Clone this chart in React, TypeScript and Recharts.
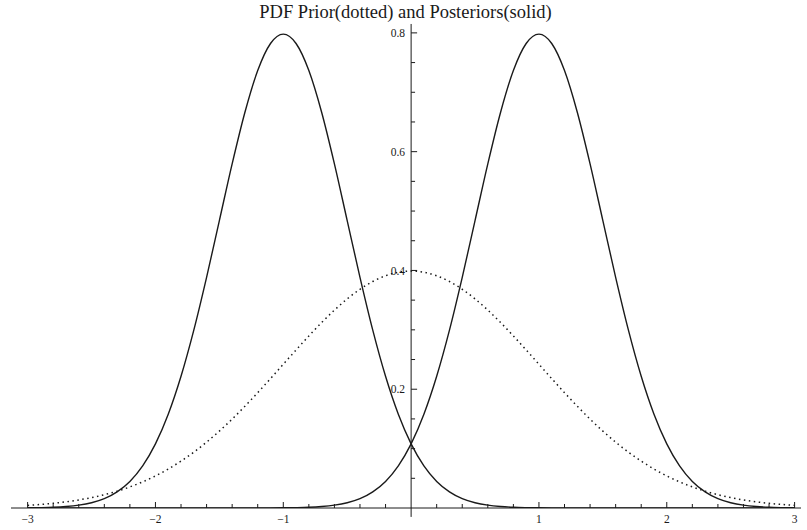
import { LineChart, Line, XAxis, YAxis, ReferenceLine } from 'recharts';

// x sample points (step 0.1)
const xValues = [
  -3.0, -2.9, -2.8, -2.7, -2.6, -2.5, -2.4, -2.3, -2.2, -2.1,
  -2.0, -1.9, -1.8, -1.7, -1.6, -1.5, -1.4, -1.3, -1.2, -1.1,
  -1.0, -0.9, -0.8, -0.7, -0.6, -0.5, -0.4, -0.3, -0.2, -0.1,
  0.0, 0.1, 0.2, 0.3, 0.4, 0.5, 0.6, 0.7, 0.8, 0.9,
  1.0, 1.1, 1.2, 1.3, 1.4, 1.5, 1.6, 1.7, 1.8, 1.9,
  2.0, 2.1, 2.2, 2.3, 2.4, 2.5, 2.6, 2.7, 2.8, 2.9, 3.0,
];

// prior (dotted)
const prior = [
  0.0044, 0.006, 0.0079, 0.0104, 0.0136, 0.0175, 0.0224, 0.0283, 0.0355, 0.044,
  0.054, 0.0656, 0.079, 0.094, 0.1109, 0.1295, 0.1497, 0.1714, 0.1942, 0.2179,
  0.242, 0.2661, 0.2897, 0.3123, 0.3332, 0.3521, 0.3683, 0.3814, 0.391, 0.397,
  0.3989, 0.397, 0.391, 0.3814, 0.3683, 0.3521, 0.3332, 0.3123, 0.2897, 0.2661,
  0.242, 0.2179, 0.1942, 0.1714, 0.1497, 0.1295, 0.1109, 0.094, 0.079, 0.0656,
  0.054, 0.044, 0.0355, 0.0283, 0.0224, 0.0175, 0.0136, 0.0104, 0.0079, 0.006, 0.0044,
];

// posterior centred at -1 (solid)
const leftPosterior = [
  0.0003, 0.0006, 0.0012, 0.0025, 0.0048, 0.0089, 0.0158, 0.0272, 0.0448, 0.071,
  0.108, 0.1579, 0.2218, 0.2995, 0.3884, 0.4839, 0.5794, 0.6664, 0.7366, 0.7821,
  0.7979, 0.7821, 0.7366, 0.6664, 0.5794, 0.4839, 0.3884, 0.2995, 0.2218, 0.1579,
  0.108, 0.071, 0.0448, 0.0272, 0.0158, 0.0089, 0.0048, 0.0025, 0.0012, 0.0006,
  0.0003, 0.0001, 0, 0, 0, 0, 0, 0, 0, 0,
  0, 0, 0, 0, 0, 0, 0, 0, 0, 0, 0,
];

// posterior centred at +1 (solid)
const rightPosterior = [
  0, 0, 0, 0, 0, 0, 0, 0, 0, 0,
  0, 0, 0, 0, 0, 0, 0, 0, 0, 0.0001,
  0.0003, 0.0006, 0.0012, 0.0025, 0.0048, 0.0089, 0.0158, 0.0272, 0.0448, 0.071,
  0.108, 0.1579, 0.2218, 0.2995, 0.3884, 0.4839, 0.5794, 0.6664, 0.7366, 0.7821,
  0.7979, 0.7821, 0.7366, 0.6664, 0.5794, 0.4839, 0.3884, 0.2995, 0.2218, 0.1579,
  0.108, 0.071, 0.0448, 0.0272, 0.0158, 0.0089, 0.0048, 0.0025, 0.0012, 0.0006, 0.0003,
];

const xTicks = [
  -3, -2.8, -2.6, -2.4, -2.2, -2, -1.8, -1.6, -1.4, -1.2,
  -1, -0.8, -0.6, -0.4, -0.2, 0, 0.2, 0.4, 0.6, 0.8,
  1, 1.2, 1.4, 1.6, 1.8, 2, 2.2, 2.4, 2.6, 2.8, 3,
];
const xLabels: Record<string, string> = {
  '-3': '\u22123', '-2': '\u22122', '-1': '\u22121', '1': '1', '2': '2', '3': '3',
};

const yMajorTicks = [0.2, 0.4, 0.6, 0.8];
const yMinorTicks = [0.05, 0.1, 0.15, 0.25, 0.3, 0.35, 0.45, 0.5, 0.55, 0.65, 0.7, 0.75];

const data = xValues.map((x, i) => ({
  x,
  prior: prior[i],
  left: leftPosterior[i],
  right: rightPosterior[i],
}));

const FONT = '"Liberation Serif", "Times New Roman", serif';
const INK = '#1a1a1a';

const XTick = (props: any) => {
  const { x, y, payload } = props;
  const v = Math.round(payload.value * 10) / 10;
  const label = xLabels[String(v)];
  const major = label !== undefined || v === 0;
  return (
    <g>
      {v !== 0 && (
        <line x1={x} x2={x} y1={y} y2={y - (major ? 6 : 4)} stroke={INK} strokeWidth={1} />
      )}
      {label && (
        <text
          x={x}
          y={y + 15}
          textAnchor="middle"
          fill={INK}
          style={{ fontFamily: FONT, fontSize: 11.5 }}
        >
          {label}
        </text>
      )}
    </g>
  );
};

export default function App() {
  return (
    <div style={{ position: 'absolute', left: 0, top: 0, width: 807, height: 530, background: '#fff' }}>
      <div
        style={{
          position: 'absolute',
          left: 2,
          top: 3,
          width: 807,
          textAlign: 'center',
          fontFamily: FONT,
          fontSize: 18.5,
          lineHeight: '19px',
          color: INK,
        }}
      >
        PDF Prior(dotted) and Posteriors(solid)
      </div>
      <LineChart
        width={807}
        height={530}
        data={data}
        margin={{ top: 21, right: 6, bottom: 0, left: 11 }}
      >
        <XAxis
          dataKey="x"
          type="number"
          domain={[-3.13, 3.05]}
          ticks={xTicks}
          interval={0}
          height={22}
          tickSize={0}
          tickMargin={0}
          tickLine={false}
          axisLine={{ stroke: INK, strokeWidth: 1 }}
          tick={<XTick />}
          allowDataOverflow
        />
        <YAxis hide type="number" domain={[0, 0.82]} allowDataOverflow />
        <ReferenceLine
          segment={[{ x: 0, y: -0.015 }, { x: 0, y: 0.815 }]}
          stroke={INK}
          strokeWidth={1}
          ifOverflow="visible"
        />
        {yMinorTicks.map((v) => (
          <ReferenceLine
            key={`m${v}`}
            segment={[{ x: 0, y: v }, { x: 0.031, y: v }]}
            stroke={INK}
            strokeWidth={1}
            ifOverflow="visible"
          />
        ))}
        {yMajorTicks.map((v) => (
          <ReferenceLine
            key={`M${v}`}
            segment={[{ x: 0, y: v }, { x: 0.047, y: v }]}
            stroke={INK}
            strokeWidth={1}
            ifOverflow="visible"
            label={{
              value: v.toFixed(1),
              position: 'left',
              offset: 6,
              fill: INK,
              style: { fontFamily: FONT, fontSize: 11.5 },
            }}
          />
        ))}
        <Line
          type="monotone"
          dataKey="prior"
          stroke={INK}
          strokeWidth={1.5}
          strokeDasharray="1.5 3.5"
          dot={false}
          isAnimationActive={false}
        />
        <Line
          type="monotone"
          dataKey="left"
          stroke={INK}
          strokeWidth={1.4}
          dot={false}
          isAnimationActive={false}
        />
        <Line
          type="monotone"
          dataKey="right"
          stroke={INK}
          strokeWidth={1.4}
          dot={false}
          isAnimationActive={false}
        />
      </LineChart>
    </div>
  );
}
